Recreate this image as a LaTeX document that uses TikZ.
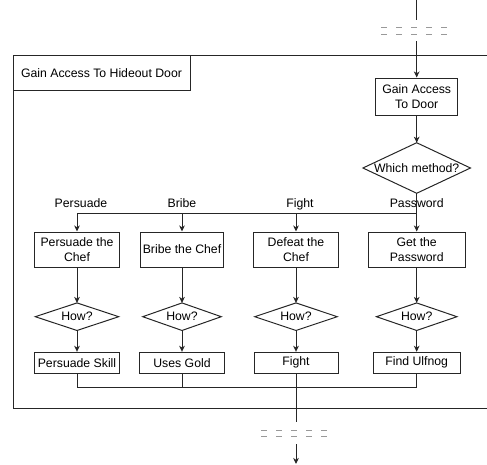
\documentclass[tikz,border=0pt]{standalone}
\usepackage{fontspec}
\setmainfont{Liberation Sans}
\usetikzlibrary{arrows.meta}
\newcommand{\pxu}{0.75pt}
\begin{document}
\begin{tikzpicture}[x=0.75pt,y=-0.75pt,
  txt/.style={font=\fontsize{9.2}{10.8}\selectfont},
  box/.style={txt, draw=black!85, line width=0.75pt, rectangle, align=center, inner sep=1pt},
  dmd/.style={txt, rectangle, align=center, inner sep=0pt},
  lbl/.style={txt, inner sep=0pt, anchor=base},
  ln/.style={draw=black!85, line width=0.75pt},
  arr/.style={ln, -{Stealth[length=4.5pt,width=4.2pt,inset=1.3pt]}},
  dsh/.style={draw=black!40, line width=0.75pt, dash pattern=on 4.5pt off 6.75pt},
]
\useasboundingbox (0,0) rectangle (487,465);
\clip (0,0) rectangle (487,465);

% frame
\draw[ln] (520,55) -- (13,55) -- (13,408) -- (520,408);
\node[box, minimum width=177*\pxu, minimum height=35.7*\pxu] (title) at (101.5,73) {Gain Access To Hideout Door};

% top entry
\coordinate (topA) at (416.7,0);
\coordinate (topB) at (416.7,20);
\coordinate (topC) at (416.7,41);
\draw[ln] (topA) -- (topB);
\draw[dsh] (381,27.3) -- (447,27.3);
\draw[dsh] (381,34) -- (447,34);

\node[box, minimum width=82*\pxu, minimum height=37*\pxu] (gad) at (416.7,96.5) {Gain Access\\To Door};
\node[dmd, minimum width=107*\pxu, minimum height=50*\pxu] (which) at (416.7,168) {Which method?};
\draw[ln] (which.north) -- (which.east) -- (which.south) -- (which.west) -- cycle;

\draw[arr] (topC) -- (gad.north);
\draw[arr] (gad.south) -- (which.north);

% row 1
\node[box, minimum width=85*\pxu, minimum height=35*\pxu] (p1) at (77,249.5) {Persuade the\\Chef};
\node[box, minimum width=83*\pxu, minimum height=35*\pxu] (b1) at (182,249.5) {Bribe the Chef};
\node[box, minimum width=85*\pxu, minimum height=35*\pxu] (f1) at (296,249.5) {Defeat the\\Chef};
\node[box, minimum width=97*\pxu, minimum height=35*\pxu] (w1) at (416.7,249.5) {Get the\\Password};

% labels
\node[lbl] (lp) at (81,207) {Persuade};
\node[lbl] (lb) at (182,207) {Bribe};
\node[lbl] (lf) at (300,207) {Fight};
\node[lbl] (lw) at (416.7,207) {Password};

\coordinate (bus) at (416.7,213);
\draw[arr] (which.south) -- (w1.north);
\draw[arr] (bus) -| (f1.north);
\draw[arr] (bus) -| (b1.north);
\draw[arr] (bus) -| (p1.north);

% row 2 diamonds
\node[dmd, minimum width=83*\pxu, minimum height=27*\pxu] (p2) at (77,316.7) {How?};
\node[dmd, minimum width=78*\pxu, minimum height=27*\pxu] (b2) at (182,316.7) {How?};
\node[dmd, minimum width=82*\pxu, minimum height=27*\pxu] (f2) at (296,316.7) {How?};
\node[dmd, minimum width=80*\pxu, minimum height=27*\pxu] (w2) at (416.7,316.7) {How?};
\foreach \n in {p2,b2,f2,w2}
  \draw[ln] (\n.north) -- (\n.east) -- (\n.south) -- (\n.west) -- cycle;

% row 3
\node[box, minimum width=85*\pxu, minimum height=21*\pxu] (p3) at (77,362.8) {Persuade Skill};
\node[box, minimum width=85*\pxu, minimum height=21*\pxu] (b3) at (182,362.8) {Uses Gold};
\node[box, minimum width=84*\pxu, minimum height=21*\pxu] (f3) at (296,362.8) {Fight};
\node[box, minimum width=87*\pxu, minimum height=21*\pxu] (w3) at (416.7,362.8) {Find Ulfnog};

\foreach \a/\b in {p1/p2,b1/b2,f1/f2,w1/w2,p2/p3,b2/b3,f2/f3,w2/w3}
  \draw[arr] (\a.south) -- (\b.north);

% merge
\coordinate (mrg) at (296,387);
\coordinate (botA) at (296,421.7);
\coordinate (botB) at (296,444);
\coordinate (botC) at (296,464);
\draw[ln] (p3.south) |- (mrg);
\draw[ln] (b3.south) |- (mrg);
\draw[ln] (w3.south) |- (mrg);
\draw[ln] (f3.south) -- (botA);
\draw[dsh] (261,430) -- (327,430);
\draw[dsh] (261,436.7) -- (327,436.7);
\draw[arr] (botB) -- (botC);
\end{tikzpicture}
\end{document}
